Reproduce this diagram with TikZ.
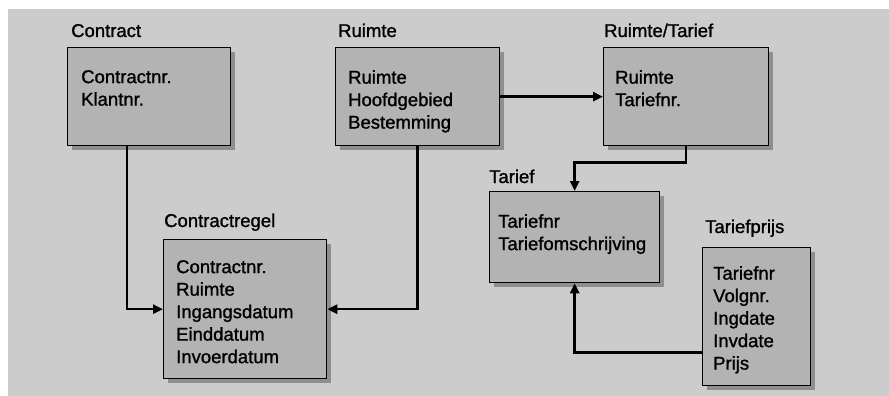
\documentclass[tikz,border=0pt]{standalone}
\usepackage{fontspec}
\setmainfont{Liberation Sans}[FakeBold=1.2]
\usetikzlibrary{positioning, arrows.meta, shadows}
\definecolor{bggray}{HTML}{CCCCCC}
\definecolor{boxgray}{HTML}{B3B3B3}
\tikzset{>={Triangle[length=10pt,width=9pt]},
entity/.style={draw, line width=1.3pt, fill=boxgray, anchor=north west, inner sep=0pt,
  drop shadow={shadow xshift=4pt, shadow yshift=-4pt, opacity=0.3, fill=black}},
title/.style={anchor=base west, inner sep=0pt},
fields/.style={anchor=north west, inner sep=0pt, align=left},
link/.style={->, line width=2.5pt},
}

\begin{document}
\begin{tikzpicture}[x=1pt, y=-1pt, font=\fontsize{18.5}{22.5}\selectfont]
    \useasboundingbox (0,0) rectangle (889,396);
    \fill[bggray] (8,9) rectangle (889,396);

    \node[entity, minimum width=163pt, minimum height=98pt] (contract) at (67,47) {};
    \node[title] (contract-t) at (71,37) {Contract};
    \node[fields] (contract-f) at (81,70) {Contractnr.\\Klantnr.};

    \node[entity, minimum width=164pt, minimum height=98pt] (ruimte) at (335,47) {};
    \node[title] (ruimte-t) at (338,37) {Ruimte};
    \node[fields] (ruimte-f) at (348,70) {Ruimte\\Hoofdgebied\\Bestemming};

    \node[entity, minimum width=165pt, minimum height=98pt] (ruimtetarief) at (603,47) {};
    \node[title] (ruimtetarief-t) at (604,37) {Ruimte/Tarief};
    \node[fields] (ruimtetarief-f) at (615,70) {Ruimte\\Tariefnr.};

    \node[entity, minimum width=170pt, minimum height=91pt] (tarief) at (489,191) {};
    \node[title] (tarief-t) at (489,183) {Tarief};
    \node[fields] (tarief-f) at (498,214) {Tariefnr\\Tariefomschrijving};

    \node[entity, minimum width=108pt, minimum height=138pt] (tariefprijs) at (702,247) {};
    \node[title] (tariefprijs-t) at (705,233) {Tariefprijs};
    \node[fields] (tariefprijs-f) at (713,266) {Tariefnr\\Volgnr.\\Ingdate\\Invdate\\Prijs};

    \node[entity, minimum width=163pt, minimum height=139pt] (contractregel) at (163,239) {};
    \node[title] (contractregel-t) at (164,227) {Contractregel};
    \node[fields] (contractregel-f) at (176,260) {Contractnr.\\Ruimte\\Ingangsdatum\\Einddatum\\Invoerdatum};

    \draw[link] ([xshift=60pt]contract.south west) |- (contractregel.west);
    \draw[link] (ruimte.south) |- (contractregel.east);
    \draw[link] (ruimte.east) -- (ruimtetarief.west);
    \draw[link] (ruimtetarief.south) -- ++(0,16) -| (tarief.north);
    \draw[link] ([yshift=-36pt]tariefprijs.west) -| (tarief.south);
\end{tikzpicture}
\end{document}
